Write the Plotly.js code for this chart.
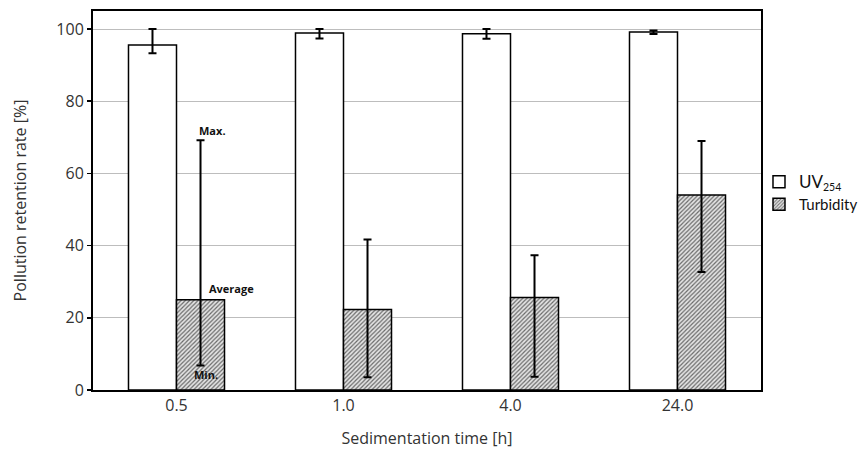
<!DOCTYPE html>
<html>
<head>
<meta charset="utf-8">
<script src="https://cdn.plot.ly/plotly-3.0.1.min.js"></script>
<style>html,body{margin:0;padding:0;background:#fff;}#chart{width:862px;height:451px;}</style>
</head>
<body>
<div id="chart"></div>
<script>
const categories = ["0.5", "1.0", "4.0", "24.0"];
const uvAvg = [95.6, 98.9, 98.7, 99.2];
const uvMax = [100.0, 100.0, 100.0, 99.6];
const uvMin = [93.3, 97.4, 97.3, 98.6];
const turbAvg = [25.0, 22.3, 25.6, 54.0];
const turbMax = [69.2, 41.7, 37.3, 69.0];
const turbMin = [6.8, 3.5, 3.7, 32.7];
const yTicks = [0, 20, 40, 60, 80, 100];

const plus = (mx, av) => mx.map((v, i) => v - av[i]);
const minus = (mn, av) => mn.map((v, i) => av[i] - v);

const font = "Open Sans, Noto Sans, sans-serif";
const legFont = "Lato, Open Sans, sans-serif";

const traces = [
  {
    type: "bar", name: "<span style='font-size:17px'>UV</span><sub>254</sub>", x: categories, y: uvAvg,
    marker: {color: "#ffffff", line: {color: "#000", width: 1.5}},
    error_y: {type: "data", symmetric: false, array: plus(uvMax, uvAvg), arrayminus: minus(uvMin, uvAvg),
      color: "#000", thickness: 2, width: 4}
  },
  {
    type: "bar", name: "Turbidity", x: categories, y: turbAvg,
    marker: {color: "#d8d8d8", line: {color: "#000", width: 1.5},
      pattern: {shape: "/", fgcolor: "#6a6a6a", bgcolor: "#e4e4e4", size: 3, solidity: 0.4}},
    error_y: {type: "data", symmetric: false, array: plus(turbMax, turbAvg), arrayminus: minus(turbMin, turbAvg),
      color: "#000", thickness: 2, width: 4}
  }
];

const layout = {
  width: 862, height: 451,
  margin: {l: 93, r: 101, t: 11, b: 61, autoexpand: false},
  paper_bgcolor: "#fff", plot_bgcolor: "#fff",
  barmode: "group", bargap: 0.425, bargroupgap: 0,
  font: {family: font, color: "#222", size: 15},
  xaxis: {
    type: "category",
    title: {text: "Sedimentation time [h]", font: {family: font, size: 16, color: "#333"}, standoff: 18},
    tickfont: {family: font, size: 16, color: "#333"},
    showline: true, linecolor: "#000", linewidth: 2, mirror: true,
    ticks: "", showgrid: false, zeroline: false
  },
  yaxis: {
    range: [0, 105],
    tickvals: yTicks, ticktext: yTicks.map(String),
    title: {text: "Pollution retention rate [%]", font: {family: font, size: 16, color: "#333"}, standoff: 26},
    tickfont: {family: font, size: 16, color: "#333"},
    showline: true, linecolor: "#000", linewidth: 2, mirror: true,
    ticks: "outside", ticklen: 4, tickwidth: 1.5, tickcolor: "#000",
    showgrid: true, gridcolor: "#bdbdbd", gridwidth: 1, zeroline: false
  },
  legend: {
    x: 0.997, y: 0.52, xanchor: "left", yanchor: "middle",
    font: {family: legFont, size: 15, color: "#111"},
    bgcolor: "rgba(0,0,0,0)", tracegroupgap: 4, itemwidth: 30
  },
  showlegend: true,
  annotations: [
    {x: 0.2126, y: 72, xref: "x", yref: "y", text: "<b>Max.</b>", showarrow: false, font: {family: font, size: 11, color: "#111"}},
    {x: 0.33, y: 28.2, xref: "x", yref: "y", text: "<b>Average</b>", showarrow: false, font: {family: font, size: 11, color: "#111"}},
    {x: 0.177, y: 4.4, xref: "x", yref: "y", text: "<b>Min.</b>", showarrow: false, font: {family: font, size: 11, color: "#111"}}
  ]
};

Plotly.newPlot("chart", traces, layout, {displayModeBar: false, staticPlot: true});
</script>
</body>
</html>
